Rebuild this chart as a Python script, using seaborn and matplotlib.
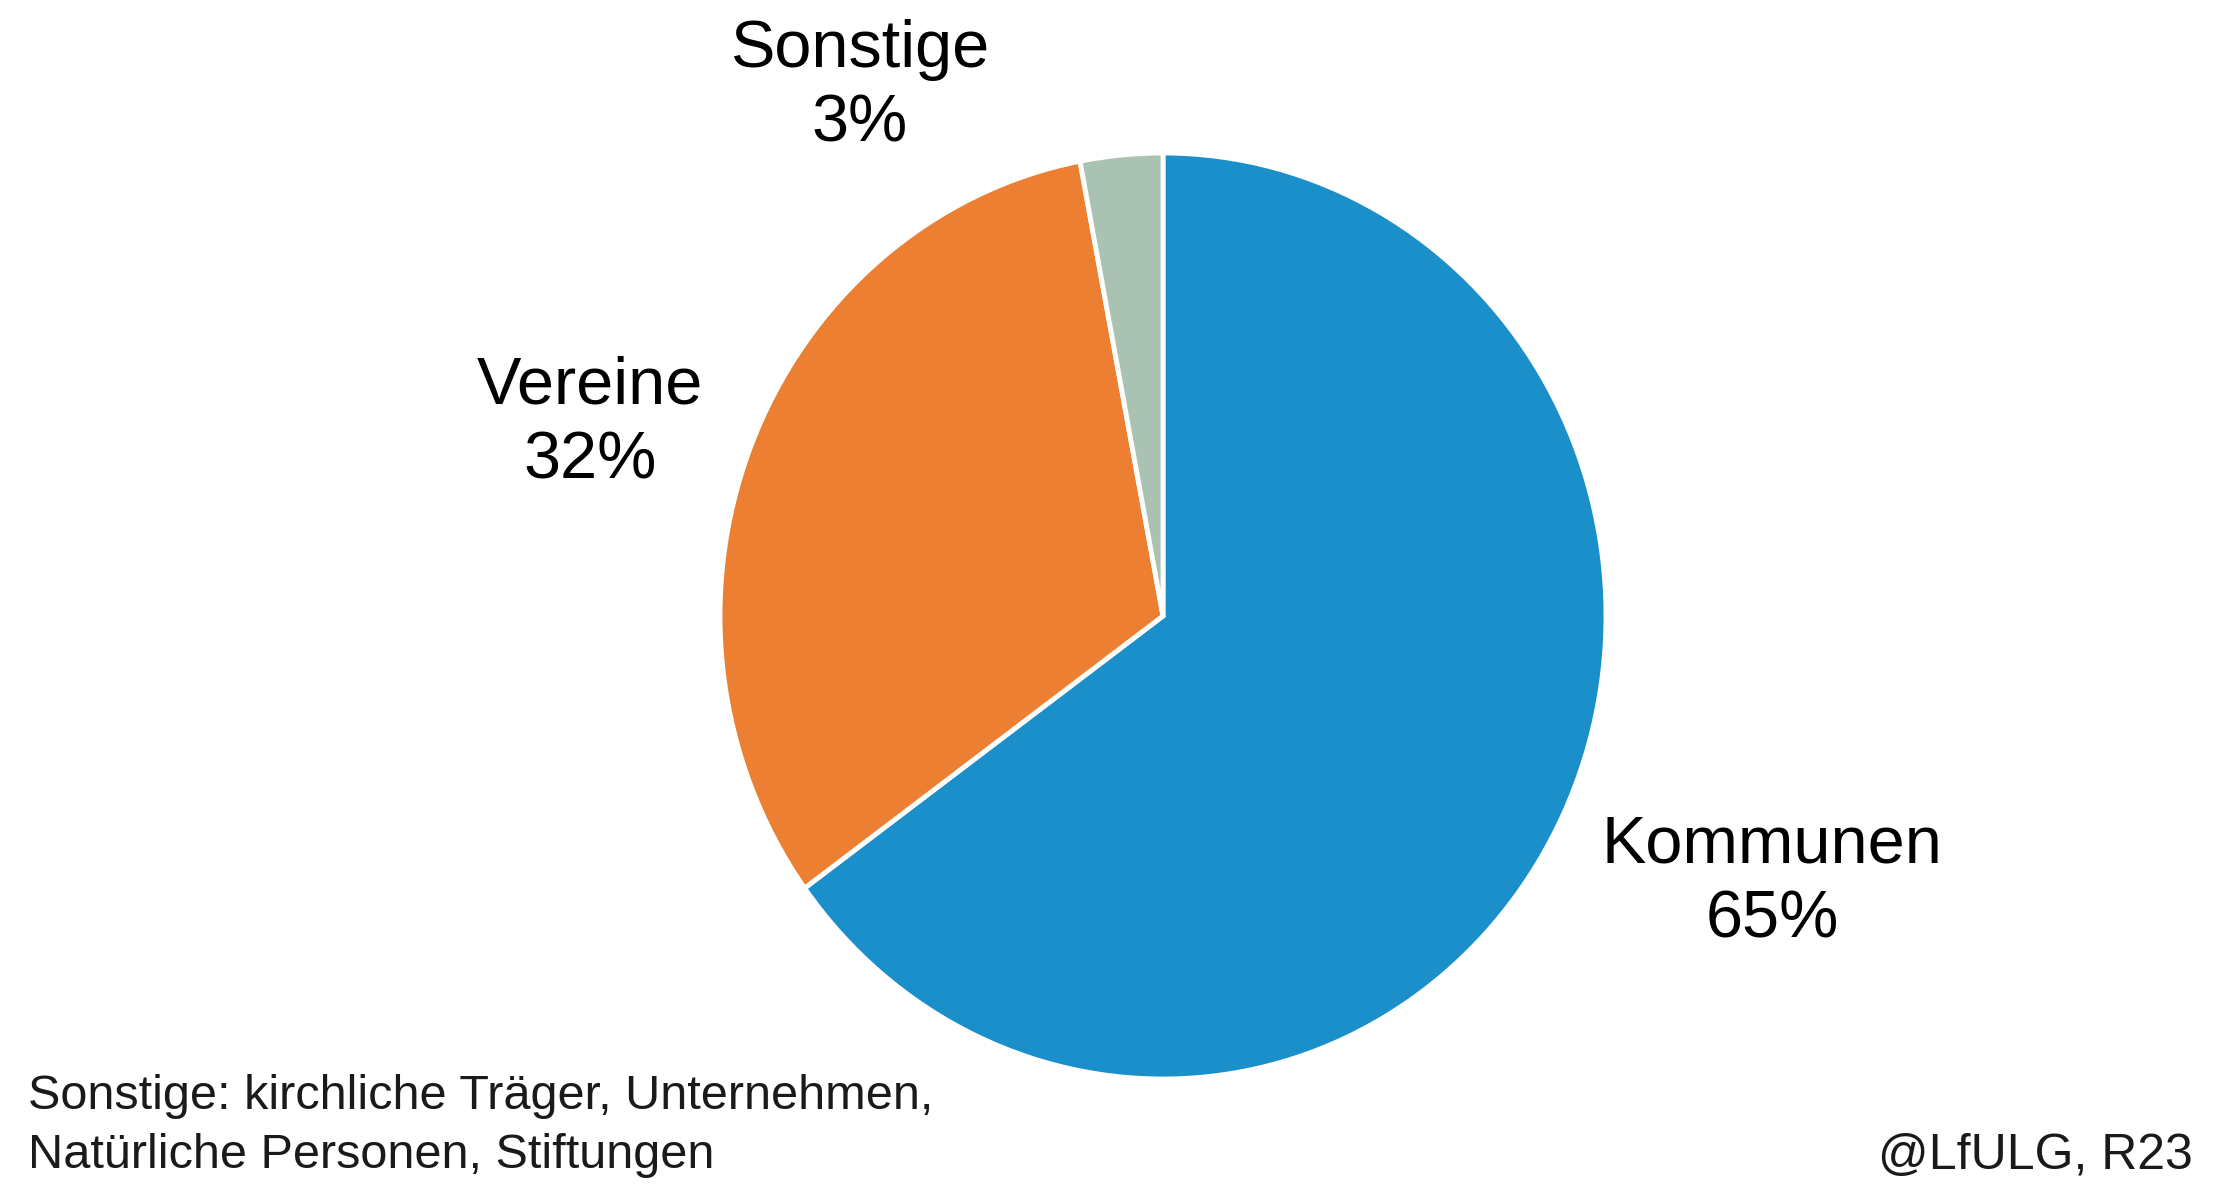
import matplotlib
matplotlib.use("Agg")
import matplotlib.pyplot as plt
import seaborn as sns

# Traeger-Anteile
categories = ["Kommunen", "Vereine", "Sonstige"]
shares = [65, 32, 3]
colors = ["#1B8FCA", "#ED7F32", "#AAC2B2"]

sns.set_theme(style="white")
plt.rcParams['font.family'] = ['Liberation Sans', 'DejaVu Sans']

W, H = 2217, 1189
fig = plt.figure(figsize=(W / 100, H / 100), dpi=100)
fig.patch.set_facecolor("white")

# pie centre and radii in pixels (the original is slightly stretched vertically)
cx, cy, rx, ry = 1163, 616, 443, 463
ax = fig.add_axes([(cx - rx) / W, (H - cy - ry) / H, 2 * rx / W, 2 * ry / H])
ax.pie(shares, colors=colors, startangle=90, counterclock=False, radius=1,
       wedgeprops=dict(edgecolor="white", linewidth=3.5))
ax.set_xlim(-1.0, 1.0)
ax.set_ylim(-1.0, 1.0)
ax.set_aspect("auto")
ax.axis("off")

label_pos = {"Kommunen": (1772, 883), "Vereine": (590, 424), "Sonstige": (860, 87)}
for cat, val in zip(categories, shares):
    x, y = label_pos[cat]
    fig.text(x / W, 1 - y / H, f"{cat}\n{val}%", ha="center", va="center",
             fontsize=48, linespacing=1.26, color="black")

fig.text(28 / W, 1 - 1126 / H,
         "Sonstige: kirchliche Träger, Unternehmen,\nNatürliche Personen, Stiftungen",
         ha="left", va="center", fontsize=35, linespacing=1.4, color="#1a1a1a")
fig.text(2193 / W, 1 - 1156 / H, "@LfULG, R23", ha="right", va="center",
         fontsize=36, color="#1a1a1a")

fig.savefig("out.png", dpi=100, facecolor="white")
